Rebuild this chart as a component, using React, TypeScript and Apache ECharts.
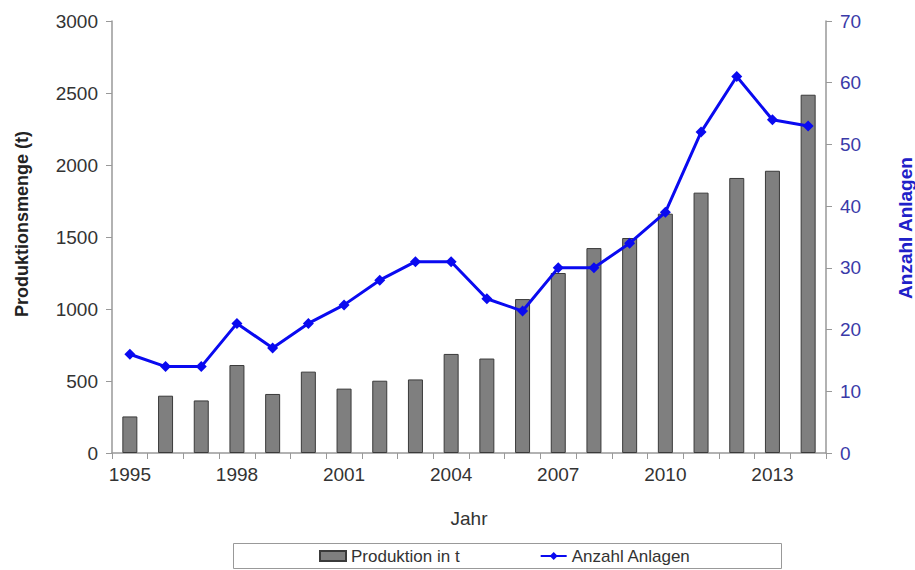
import React, { useEffect, useRef } from "react";
import * as echarts from "echarts";

const years = ["1995","1996","1997","1998","1999","2000","2001","2002","2003","2004","2005","2006","2007","2008","2009","2010","2011","2012","2013","2014"];
const produktion = [254, 398, 365, 611, 410, 565, 447, 502, 511, 688, 656, 1069, 1250, 1423, 1493, 1662, 1808, 1910, 1960, 2488];
const anlagen = [16, 14, 14, 21, 17, 21, 24, 28, 31, 31, 25, 23, 30, 30, 34, 39, 52, 61, 54, 53];
const leftTicks = { min: 0, max: 3000, interval: 500 };
const rightTicks = { min: 0, max: 70, interval: 10 };

const FONT = "'Liberation Sans', Arial, sans-serif";

export default function App() {
  const ref = useRef<HTMLDivElement>(null);
  useEffect(() => {
    const chart = echarts.init(ref.current!, null, { renderer: "svg" });
    chart.setOption({
      animation: false,
      textStyle: { fontFamily: FONT },
      grid: { left: 112, right: 89, top: 21, bottom: 117, containLabel: false },
      legend: {
        left: 319,
        top: 546,
        padding: 0,
        itemWidth: 26,
        itemHeight: 10,
        itemGap: 80,
        textStyle: { fontSize: 17, color: "#333", fontFamily: FONT, lineHeight: 20 },
        data: [
          { name: "Produktion in t", icon: "rect" },
          { name: "Anzahl Anlagen" },
        ],
      },
      xAxis: {
        type: "category",
        data: years,
        boundaryGap: true,
        axisLine: { lineStyle: { color: "#999", width: 1.5 } },
        axisTick: { show: true, alignWithLabel: false, interval: 0, length: 6, lineStyle: { color: "#999" } },
        axisLabel: { interval: 2, fontSize: 19, color: "#333", margin: 12, fontFamily: FONT },
      },
      yAxis: [
        {
          type: "value",
          min: leftTicks.min,
          max: leftTicks.max,
          interval: leftTicks.interval,
          splitLine: { show: false },
          axisLine: { show: true, lineStyle: { color: "#999", width: 1.5 } },
          axisTick: { show: true, length: 6, lineStyle: { color: "#999" } },
          axisLabel: { fontSize: 19, color: "#333", margin: 14, fontFamily: FONT, formatter: (v: number) => String(v) },
        },
        {
          type: "value",
          position: "right",
          min: rightTicks.min,
          max: rightTicks.max,
          interval: rightTicks.interval,
          splitLine: { show: false },
          axisLine: { show: true, lineStyle: { color: "#999", width: 1.5 } },
          axisTick: { show: true, length: 6, lineStyle: { color: "#999" } },
          axisLabel: { fontSize: 19, color: "#3a3aa8", margin: 14, fontFamily: FONT, formatter: (v: number) => String(v) },
        },
      ],
      series: [
        {
          name: "Produktion in t",
          type: "bar",
          data: produktion,
          barWidth: 15,
          itemStyle: { color: "#7f7f7f", borderColor: "#3a3a3a", borderWidth: 1 },
        },
        {
          name: "Anzahl Anlagen",
          type: "line",
          yAxisIndex: 1,
          data: anlagen,
          symbol: "diamond",
          symbolSize: 11,
          lineStyle: { color: "#0a0af0", width: 3 },
          itemStyle: { color: "#0a0af0" },
        },
      ],
      graphic: [
        {
          type: "rect",
          shape: { x: 233.5, y: 543.5, width: 548, height: 25 },
          style: { fill: "none", stroke: "#999", lineWidth: 1 },
          z: -1,
        },
        {
          type: "text",
          x: 22,
          y: 224,
          rotation: Math.PI / 2,
          style: {
            text: "Produktionsmenge (t)",
            fontSize: 18,
            fontWeight: "bold",
            fill: "#222",
            fontFamily: FONT,
            align: "center",
            verticalAlign: "middle",
          },
        },
        {
          type: "text",
          x: 905,
          y: 228,
          rotation: Math.PI / 2,
          style: {
            text: "Anzahl Anlagen",
            fontSize: 19,
            fontWeight: "bold",
            fill: "#2020c8",
            fontFamily: FONT,
            align: "center",
            verticalAlign: "middle",
          },
        },
        {
          type: "text",
          x: 469,
          y: 518,
          style: {
            text: "Jahr",
            fontSize: 19,
            fill: "#333",
            fontFamily: FONT,
            align: "center",
            verticalAlign: "middle",
          },
        },
      ],
    });
    return () => chart.dispose();
  }, []);
  return <div ref={ref} style={{ width: 915, height: 570, position: "absolute", left: 0, top: 0 }} />;
}
